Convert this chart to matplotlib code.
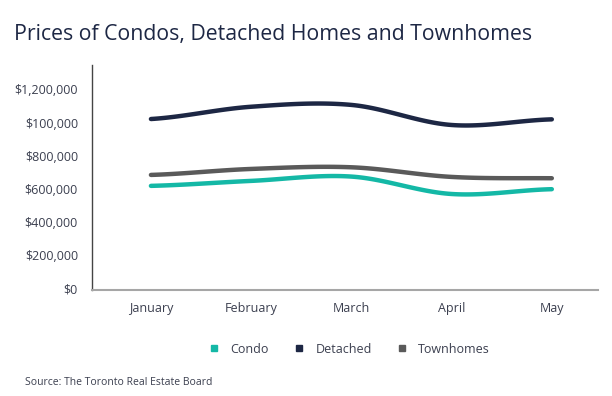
import numpy as np
import matplotlib
matplotlib.use("Agg")
import matplotlib.pyplot as plt
from matplotlib.lines import Line2D

plt.rcParams['font.family'] = ['Open Sans', 'DejaVu Sans']

months = ["January", "February", "March", "April", "May"]
condo = [619000, 649000, 675000, 570000, 599000]
detached = [1022000, 1096000, 1107000, 986000, 1020000]
townhomes = [685000, 721000, 731000, 673000, 665000]

# tick labels as printed on the original (note the "$100,000" typo)
y_ticks = [0, 200000, 400000, 600000, 800000, 1000000, 1200000]
y_labels = ["$0", "$200,000", "$400,000", "$600,000", "$800,000", "$100,000", "$1,200,000"]

series = [("Condo", condo, "#14b8a6"),
          ("Detached", detached, "#1d2744"),
          ("Townhomes", townhomes, "#5a5a5a")]

navy = "#1d2744"
text_col = "#3b3f4f"


def smooth(xs, ys, n=30):
    # catmull-rom through the points, like the smoothed line option in office charts
    xs = np.asarray(xs, float)
    ys = np.asarray(ys, float)
    px = np.concatenate([[2 * xs[0] - xs[1]], xs, [2 * xs[-1] - xs[-2]]])
    py = np.concatenate([[ys[0]], ys, [ys[-1]]])
    out_x, out_y = [], []
    for i in range(1, len(px) - 2):
        t = np.linspace(0, 1, n, endpoint=(i == len(px) - 3))
        for arr, out in ((px, out_x), (py, out_y)):
            p0, p1, p2, p3 = arr[i - 1], arr[i], arr[i + 1], arr[i + 2]
            out.extend(0.5 * ((2 * p1) + (-p0 + p2) * t
                              + (2 * p0 - 5 * p1 + 4 * p2 - p3) * t ** 2
                              + (-p0 + 3 * p1 - 3 * p2 + p3) * t ** 3))
    return np.array(out_x), np.array(out_y)


fig = plt.figure(figsize=(6.12, 3.96), dpi=100)
ax = fig.add_axes([0.150, 0.268, 0.827, 0.568])

x = np.arange(len(months))
for name, vals, col in series:
    sx, sy = smooth(x, vals)
    ax.plot(sx, sy, color=col, linewidth=3.2, solid_capstyle='round', zorder=3)

ax.set_xlim(-0.59, 4.46)
ax.set_ylim(-8000, 1348000)
ax.set_yticks(y_ticks)
ax.set_yticklabels(y_labels)
ax.set_xticks(x)
ax.set_xticklabels(months)

for s in ["top", "right"]:
    ax.spines[s].set_visible(False)
ax.spines["left"].set_color("#444444")
ax.spines["left"].set_linewidth(1.0)
ax.spines["bottom"].set_color("#a6a6a6")
ax.spines["bottom"].set_linewidth(1.5)
ax.tick_params(axis="both", length=0, labelsize=9, labelcolor=text_col)
ax.tick_params(axis="y", pad=10)
ax.tick_params(axis="x", pad=9)

fig.text(0.023, 0.899, "Prices of Condos, Detached Homes and Townhomes",
         fontsize=15.3, color=navy, ha="left", va="baseline")

handles = [Line2D([], [], marker="s", linestyle="none", markersize=5,
                  color=col, label=name) for name, _, col in series]
fig.legend(handles=handles, loc="center", bbox_to_anchor=(0.565, 0.118), ncol=3,
           frameon=False, fontsize=9, handletextpad=0.3, columnspacing=1.4,
           labelcolor=text_col)

fig.text(0.041, 0.028, "Source: The Toronto Real Estate Board",
         fontsize=7.5, color=text_col, ha="left", va="baseline")

fig.savefig("out.png", dpi=100)
